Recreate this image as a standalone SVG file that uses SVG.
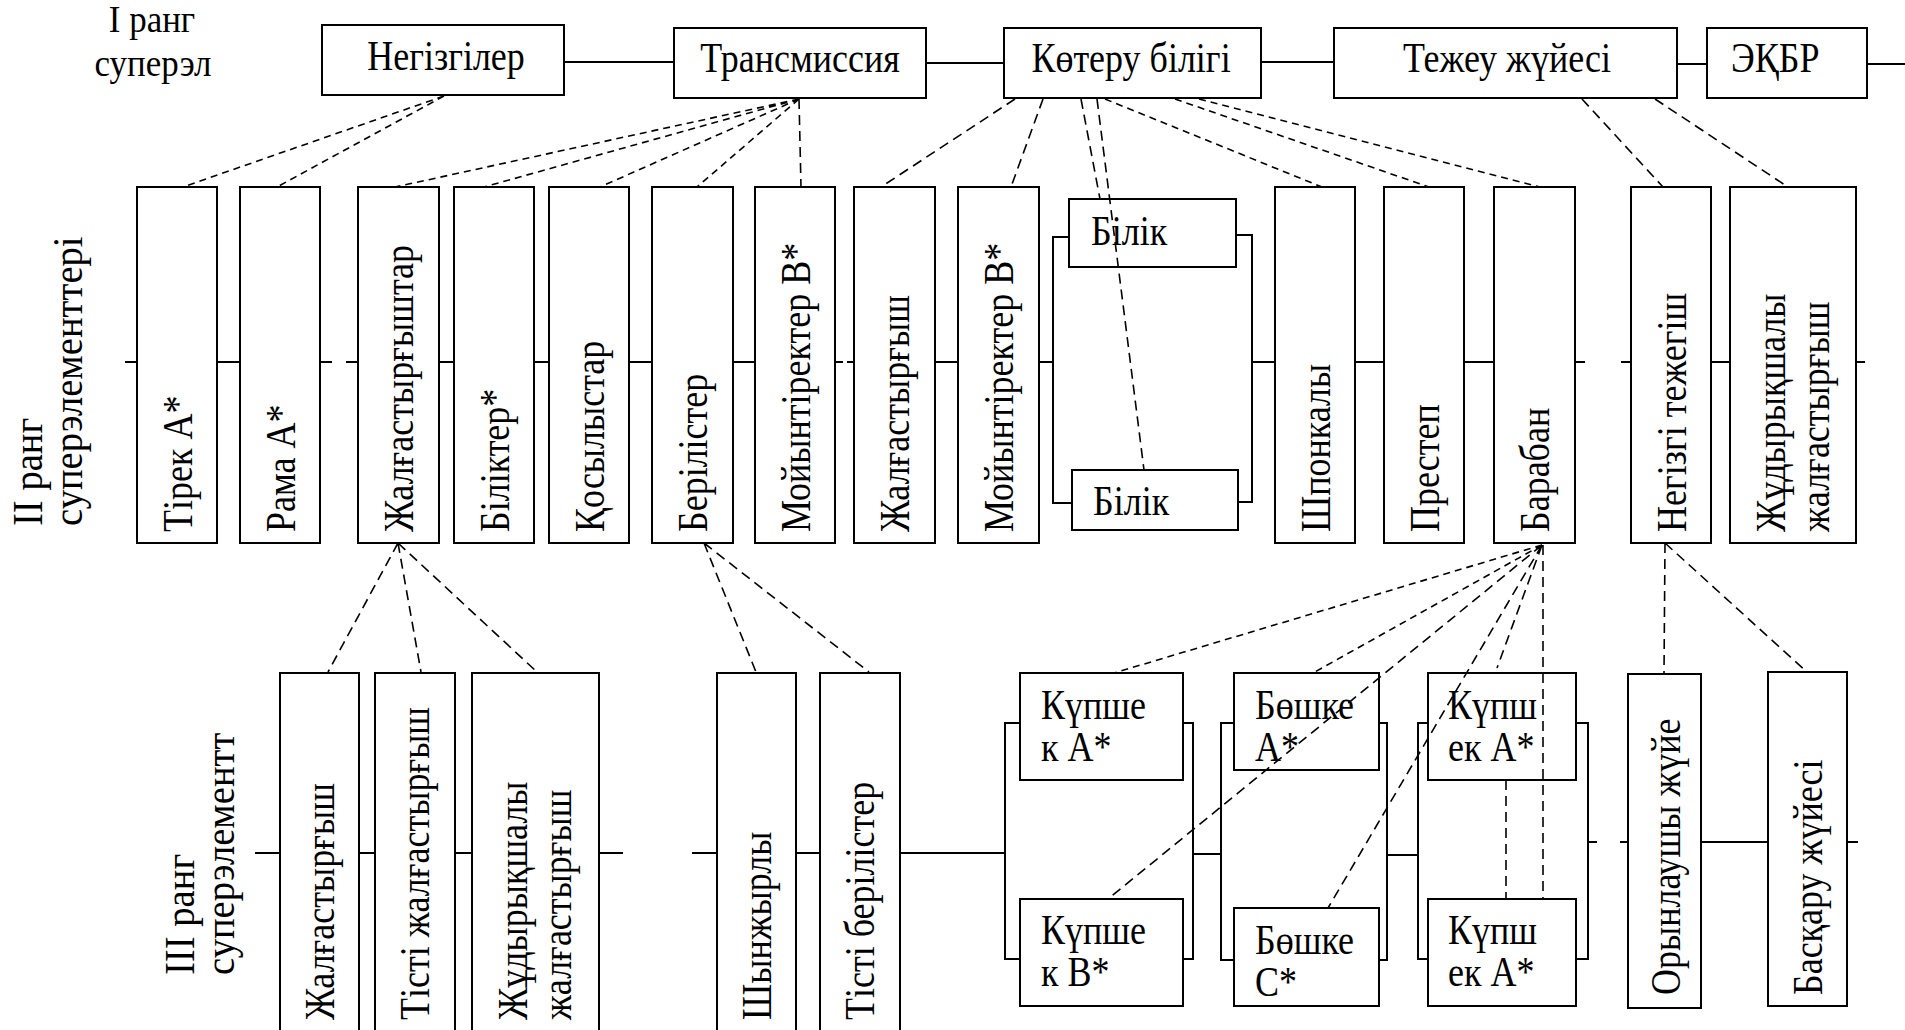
<svg xmlns="http://www.w3.org/2000/svg" width="1905" height="1030" viewBox="0 0 1905 1030">
  <defs>
    <style>
      .bx { fill: #fff; stroke: #000; stroke-width: 2; }
      .ln { fill: none; stroke: #000; stroke-width: 2; }
      .d1 { fill: none; stroke: #000; stroke-width: 1.6; stroke-dasharray: 7 5; }
      .d2 { fill: none; stroke: #000; stroke-width: 1.6; stroke-dasharray: 10 6; }
      text { font-family: "Liberation Serif", "Times New Roman", serif; font-size: 42px; fill: #000; }
      .mid { text-anchor: middle; }
      .lab1 { font-size: 38px; }
    </style>
    <clipPath id="cutC">
      <rect x="0" y="-60" width="160" height="102"/>
    </clipPath>
  </defs>
  <rect width="1905" height="1030" fill="#fff"/>

  <!-- rank labels (tall, narrow Times lettering) -->
  <g id="label-rank1">
    <text class="mid lab1" transform="translate(152,32) scale(0.92,1)">I ранг</text>
    <text class="mid lab1" transform="translate(153,76) scale(0.92,1)">суперэл</text>
  </g>
  <g id="label-rank2">
    <text transform="translate(42,526) rotate(-90) scale(0.92,1)">II ранг</text>
    <text transform="translate(82,526) rotate(-90) scale(0.92,1)">суперэлементтері</text>
  </g>
  <g id="label-rank3">
    <text transform="translate(194,975) rotate(-90) scale(0.92,1)">III ранг</text>
    <text transform="translate(234,975) rotate(-90) scale(0.92,1)">суперэлементт</text>
  </g>

  <!-- solid chain lines and brackets -->
  <g id="chains">
    <path class="ln" d="M564 62H674 M926 63H1004 M1261 62H1334 M1677 64H1707 M1867 64H1905"/>
    <path class="ln" d="M125 362H137 M217 362H240 M320 362H332 M346 362H358 M439 362H454 M534 362H549 M629 362H652 M733 362H755 M835 362H843 M847 362H854 M935 362H958 M1039 362H1053 M1252 362H1275 M1355 362H1384 M1464 362H1494 M1575 362H1585 M1621 362H1631 M1711 362H1730 M1856 362H1865"/>
    <path class="ln" d="M1069 237H1053V503H1072 M1236 235H1252V502H1238"/>
    <path class="ln" d="M255 853H280 M359 853H375 M455 853H472 M599 853H623 M692 853H717 M796 853H820 M900 853H1005 M1193 854H1221 M1387 855H1418 M1588 842H1597 M1620 842H1628 M1701 842H1768 M1847 842H1858"/>
    <path class="ln" d="M1020 723H1005V959H1020 M1183 723H1193V959H1183"/>
    <path class="ln" d="M1234 723H1221V960H1234 M1379 723H1387V960H1379"/>
    <path class="ln" d="M1428 723H1418V959H1428 M1576 723H1588V959H1576"/>
  </g>

  <!-- rank I nodes -->
  <g id="n-negizgiler"><rect class="bx" x="322" y="25" width="242" height="70"/><text class="mid" transform="translate(446,70) scale(0.857,1)">Негізгілер</text></g>
  <g id="n-transmissiya"><rect class="bx" x="674" y="28" width="252" height="70"/><text class="mid" transform="translate(800,72) scale(0.857,1)">Трансмиссия</text></g>
  <g id="n-koteru"><rect class="bx" x="1004" y="28" width="257" height="70"/><text class="mid" transform="translate(1131,72) scale(0.857,1)">Көтеру білігі</text></g>
  <g id="n-tezheu"><rect class="bx" x="1334" y="28" width="343" height="70"/><text class="mid" transform="translate(1507,72) scale(0.857,1)">Тежеу жүйесі</text></g>
  <g id="n-ekbr"><rect class="bx" x="1707" y="28" width="160" height="70"/><text transform="translate(1731,72) scale(0.857,1)">ЭҚБР</text></g>

  <!-- rank II nodes -->
  <g id="n-tirek"><rect class="bx" x="137" y="187" width="80" height="356"/><text transform="translate(192,532) rotate(-90) scale(0.857,1)">Тірек А*</text></g>
  <g id="n-rama"><rect class="bx" x="240" y="187" width="80" height="356"/><text transform="translate(295,532) rotate(-90) scale(0.857,1)">Рама А*</text></g>
  <g id="n-zhalgastyrgyshtar"><rect class="bx" x="358" y="187" width="81" height="356"/><text transform="translate(413,532) rotate(-90) scale(0.857,1)">Жалғастырғыштар</text></g>
  <g id="n-bilikter"><rect class="bx" x="454" y="187" width="80" height="356"/><text transform="translate(509,532) rotate(-90) scale(0.857,1)">Біліктер*</text></g>
  <g id="n-kosylystar"><rect class="bx" x="549" y="187" width="80" height="356"/><text transform="translate(604,532) rotate(-90) scale(0.857,1)">Қосылыстар</text></g>
  <g id="n-berilister"><rect class="bx" x="652" y="187" width="81" height="356"/><text transform="translate(707,532) rotate(-90) scale(0.857,1)">Берілістер</text></g>
  <g id="n-moiyntirekter1"><rect class="bx" x="755" y="187" width="80" height="356"/><text transform="translate(810,532) rotate(-90) scale(0.857,1)">Мойынтіректер В*</text></g>
  <g id="n-zhalgastyrgysh"><rect class="bx" x="854" y="187" width="81" height="356"/><text transform="translate(909,532) rotate(-90) scale(0.857,1)">Жалғастырғыш</text></g>
  <g id="n-moiyntirekter2"><rect class="bx" x="958" y="187" width="81" height="356"/><text transform="translate(1013,532) rotate(-90) scale(0.857,1)">Мойынтіректер В*</text></g>
  <g id="n-bilik1"><rect class="bx" x="1069" y="199" width="167" height="68"/><text transform="translate(1091,245) scale(0.857,1)">Білік</text></g>
  <g id="n-bilik2"><rect class="bx" x="1072" y="470" width="166" height="60"/><text transform="translate(1093,515) scale(0.857,1)">Білік</text></g>
  <g id="n-shponkaly"><rect class="bx" x="1275" y="187" width="80" height="356"/><text transform="translate(1330,532) rotate(-90) scale(0.857,1)">Шпонкалы</text></g>
  <g id="n-prestep"><rect class="bx" x="1384" y="187" width="80" height="356"/><text transform="translate(1439,532) rotate(-90) scale(0.857,1)">Престеп</text></g>
  <g id="n-baraban"><rect class="bx" x="1494" y="187" width="81" height="356"/><text transform="translate(1549,532) rotate(-90) scale(0.857,1)">Барабан</text></g>
  <g id="n-negizgi-tezhegish"><rect class="bx" x="1631" y="187" width="80" height="356"/><text transform="translate(1686,532) rotate(-90) scale(0.857,1)">Негізгі тежегіш</text></g>
  <g id="n-zhudyryk2"><rect class="bx" x="1730" y="187" width="126" height="356"/><text transform="translate(1785,532) rotate(-90) scale(0.857,1)">Жұдырықшалы</text><text transform="translate(1829,532) rotate(-90) scale(0.857,1)">жалғастырғыш</text></g>

  <!-- rank III nodes -->
  <g id="n-zhalg3"><rect class="bx" x="280" y="673" width="79" height="370"/><text transform="translate(334,1020) rotate(-90) scale(0.857,1)">Жалғастырғыш</text></g>
  <g id="n-tisti-zhalg"><rect class="bx" x="375" y="673" width="80" height="370"/><text transform="translate(429,1020) rotate(-90) scale(0.857,1)">Тісті жалғастырғыш</text></g>
  <g id="n-zhudyryk3"><rect class="bx" x="472" y="673" width="127" height="370"/><text transform="translate(527,1020) rotate(-90) scale(0.857,1)">Жұдырықшалы</text><text transform="translate(571,1020) rotate(-90) scale(0.857,1)">жалғастырғыш</text></g>
  <g id="n-shynzhyrly"><rect class="bx" x="717" y="673" width="79" height="370"/><text transform="translate(771,1020) rotate(-90) scale(0.857,1)">Шынжырлы</text></g>
  <g id="n-tisti-beril"><rect class="bx" x="820" y="673" width="80" height="370"/><text transform="translate(874,1020) rotate(-90) scale(0.857,1)">Тісті берілістер</text></g>
  <g id="n-kupshek-a"><rect class="bx" x="1020" y="673" width="163" height="107"/><text transform="translate(1041,719) scale(0.857,1)">Күпше</text><text transform="translate(1041,761) scale(0.857,1)">к А*</text></g>
  <g id="n-kupshek-b"><rect class="bx" x="1020" y="899" width="163" height="107"/><text transform="translate(1041,944) scale(0.857,1)">Күпше</text><text transform="translate(1041,986) scale(0.857,1)">к В*</text></g>
  <g id="n-boshke-a"><rect class="bx" x="1234" y="673" width="145" height="97"/><text transform="translate(1255,719) scale(0.857,1)">Бөшке</text><text transform="translate(1255,761) scale(0.857,1)">А*</text></g>
  <g id="n-boshke-c"><rect class="bx" x="1234" y="908" width="145" height="98"/><text transform="translate(1255,954) scale(0.857,1)">Бөшке</text><g transform="translate(1255,996)"><text clip-path="url(#cutC)" transform="scale(0.857,1)">С*</text></g></g>
  <g id="n-kupsh-a1"><rect class="bx" x="1428" y="673" width="148" height="107"/><text transform="translate(1448,719) scale(0.857,1)">Күпш</text><text transform="translate(1448,761) scale(0.857,1)">ек А*</text></g>
  <g id="n-kupsh-a2"><rect class="bx" x="1428" y="899" width="148" height="107"/><text transform="translate(1448,944) scale(0.857,1)">Күпш</text><text transform="translate(1448,986) scale(0.857,1)">ек А*</text></g>
  <g id="n-oryndaushy"><rect class="bx" x="1628" y="674" width="73" height="334"/><text transform="translate(1680,995) rotate(-90) scale(0.857,1)">Орынлаушы жүйе</text></g>
  <g id="n-baskaru"><rect class="bx" x="1768" y="672" width="79" height="334"/><text transform="translate(1822,995) rotate(-90) scale(0.857,1)">Басқару жүйесі</text></g>

  <!-- dashed composition links -->
  <g id="links">
    <path class="d1" d="M444 96L183 187 M444 96L277 187"/>
    <path class="d1" d="M799 99L395 187 M799 99L484 187 M799 99L600 187 M799 99L697 187"/>
    <path class="d2" d="M799 99L801 187"/>
    <path class="d2" d="M1015 99L881 187 M1043 99L1011 187 M1081 99L1100 199 M1097 99L1144 470"/>
    <path class="d1" d="M1105 99L1322 187 M1175 99L1429 187 M1199 99L1540 187"/>
    <path class="d2" d="M1582 99L1663 187 M1655 99L1788 187"/>
    <path class="d2" d="M398 543L328 672 M398 543L421 672 M398 543L537 672"/>
    <path class="d2" d="M704 543L756 672 M704 543L869 672"/>
    <path class="d1" d="M1542 545L1114 673 M1542 545L1313 673"/>
    <path class="d2" d="M1542 545L1108 899 M1542 545L1328 908 M1542 545L1497 668 M1543 545L1543 899 M1506 780L1506 898"/>
    <path class="d2" d="M1665 543L1664 674 M1665 543L1807 672"/>
  </g>
</svg>
